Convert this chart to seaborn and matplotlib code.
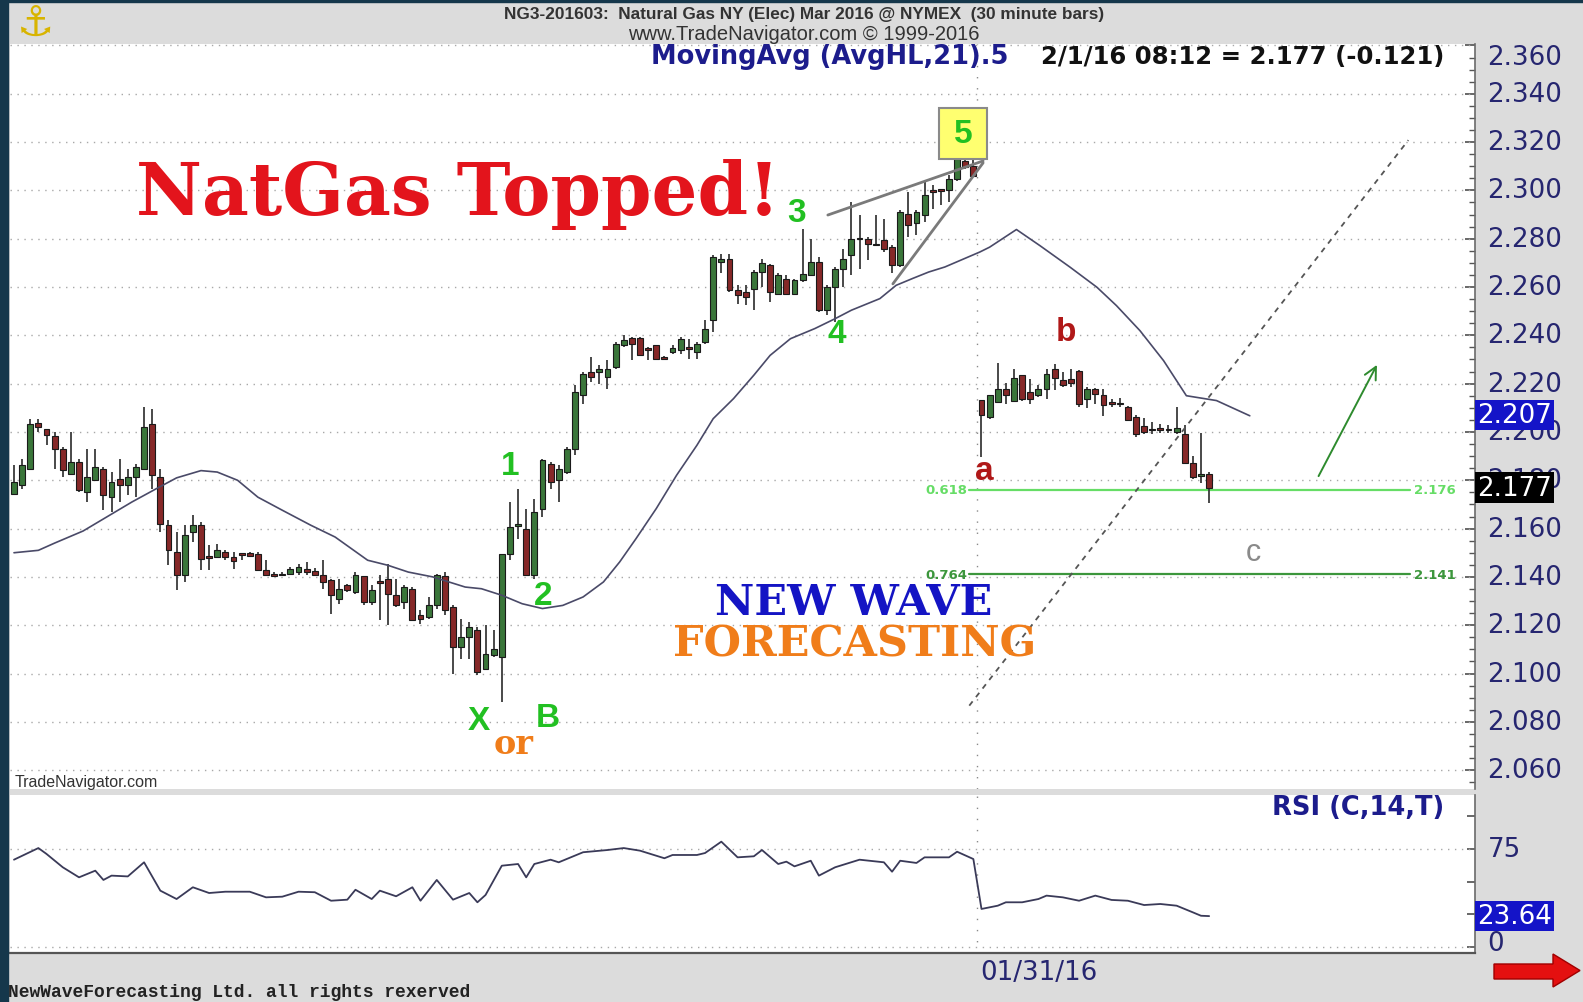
import numpy as np
import matplotlib
matplotlib.use("Agg")
import matplotlib.pyplot as plt
import matplotlib.transforms as mtransforms
from matplotlib.patches import Rectangle, Polygon
from matplotlib.ticker import MultipleLocator, FixedLocator
import seaborn as sns

# ---------------- data (30 minute bars, NG Mar 2016) ----------------
opens = [2.1745, 2.1779, 2.1848, 2.2039, 2.2011, 2.1983, 2.1931, 2.1828, 2.1876, 2.1752,
         2.1800, 2.1848, 2.1731, 2.1807, 2.1779, 2.1814, 2.1848, 2.2035, 2.1814, 2.1614,
         2.1503, 2.1407, 2.1586, 2.1614, 2.1483, 2.1483, 2.1503, 2.1483, 2.1494, 2.1500,
         2.1496, 2.1427, 2.1414, 2.1407, 2.1414, 2.1420, 2.1431, 2.1423, 2.1407, 2.1386,
         2.1310, 2.1365, 2.1338, 2.1404, 2.1296, 2.1379, 2.1393, 2.1324, 2.1296, 2.1351,
         2.1241, 2.1234, 2.1282, 2.1404, 2.1276, 2.1110, 2.1151, 2.1179, 2.1020, 2.1075,
         2.1069, 2.1496, 2.1611, 2.1600, 2.1407, 2.1683, 2.1869, 2.1800, 2.1834, 2.1931,
         2.2152, 2.2248, 2.2248, 2.2228, 2.2269, 2.2359, 2.2389, 2.2389, 2.2348, 2.2359,
         2.2311, 2.2331, 2.2338, 2.2352, 2.2331, 2.2373, 2.2462, 2.2704, 2.2715, 2.2587,
         2.2580, 2.2593, 2.2662, 2.2693, 2.2573, 2.2635, 2.2573, 2.2628, 2.2649, 2.2704,
         2.2504, 2.2600, 2.2676, 2.2731, 2.2800, 2.2800, 2.2780, 2.2794, 2.2766, 2.2690,
         2.2904, 2.2863, 2.2897, 2.3001, 2.3005, 2.3001, 2.3049, 2.3123, 2.3100,
         2.2131, 2.2062, 2.2124, 2.2177, 2.2128, 2.2235, 2.2166, 2.2152, 2.2179, 2.2262,
         2.2214, 2.2218, 2.2251, 2.2138, 2.2179, 2.2152, 2.2124, 2.2121, 2.2104, 2.2062,
         2.2023, 2.2014, 2.2017, 2.2014, 2.2000, 2.1993, 2.1873, 2.1818, 2.1828]
highs = [2.1865, 2.1890, 2.2055, 2.2052, 2.2014, 2.2000, 2.1938, 2.2000, 2.1890, 2.1931,
         2.1931, 2.1855, 2.1834, 2.1890, 2.1848, 2.1869, 2.2104, 2.2094, 2.1848, 2.1634,
         2.1586, 2.1614, 2.1655, 2.1627, 2.1531, 2.1538, 2.1510, 2.1503, 2.1499, 2.1503,
         2.1503, 2.1469, 2.1420, 2.1420, 2.1441, 2.1455, 2.1462, 2.1437, 2.1469, 2.1393,
         2.1393, 2.1372, 2.1420, 2.1404, 2.1365, 2.1407, 2.1455, 2.1393, 2.1365, 2.1358,
         2.1262, 2.1317, 2.1414, 2.1420, 2.1282, 2.1227, 2.1213, 2.1193, 2.1200, 2.1179,
         2.1496, 2.1710, 2.1765, 2.1683, 2.1724, 2.1890, 2.1876, 2.1862, 2.1938, 2.2193,
         2.2248, 2.2311, 2.2276, 2.2297, 2.2373, 2.2400, 2.2393, 2.2393, 2.2352, 2.2359,
         2.2315, 2.2359, 2.2393, 2.2386, 2.2373, 2.2462, 2.2731, 2.2738, 2.2738, 2.2607,
         2.2607, 2.2669, 2.2718, 2.2697, 2.2656, 2.2649, 2.2635, 2.2842, 2.2800, 2.2725,
         2.2607, 2.2683, 2.2759, 2.2952, 2.2897, 2.2807, 2.2897, 2.2883, 2.2773, 2.2918,
         2.2994, 2.2918, 2.3035, 2.3021, 2.3007, 2.3063, 2.3145, 2.3143, 2.3137,
         2.2131, 2.2155, 2.2287, 2.2204, 2.2262, 2.2237, 2.2221, 2.2193, 2.2262, 2.2283,
         2.2248, 2.2262, 2.2255, 2.2186, 2.2182, 2.2179, 2.2138, 2.2141, 2.2106, 2.2072,
         2.2058, 2.2041, 2.2035, 2.2028, 2.2104, 2.2030, 2.1901, 2.1996, 2.1835]
lows = [2.1738, 2.1765, 2.1848, 2.2000, 2.1945, 2.1848, 2.1814, 2.1821, 2.1752, 2.1710,
        2.1800, 2.1676, 2.1669, 2.1710, 2.1738, 2.1731, 2.1848, 2.1765, 2.1586, 2.1448,
        2.1345, 2.1379, 2.1545, 2.1427, 2.1427, 2.1483, 2.1469, 2.1434, 2.1469, 2.1483,
        2.1423, 2.1404, 2.1404, 2.1404, 2.1407, 2.1407, 2.1407, 2.1404, 2.1351, 2.1248,
        2.1289, 2.1338, 2.1331, 2.1282, 2.1282, 2.1220, 2.1200, 2.1276, 2.1269, 2.1220,
        2.1207, 2.1227, 2.1269, 2.1241, 2.1000, 2.1062, 2.1062, 2.0993, 2.1020, 2.1069,
        2.0882, 2.1469, 2.1558, 2.1407, 2.1393, 2.1648, 2.1765, 2.1710, 2.1828, 2.1903,
        2.2117, 2.2207, 2.2200, 2.2179, 2.2262, 2.2352, 2.2297, 2.2317, 2.2297, 2.2304,
        2.2300, 2.2324, 2.2324, 2.2304, 2.2304, 2.2366, 2.2414, 2.2656, 2.2580, 2.2531,
        2.2524, 2.2504, 2.2600, 2.2538, 2.2566, 2.2566, 2.2566, 2.2621, 2.2649, 2.2497,
        2.2483, 2.2455, 2.2600, 2.2649, 2.2676, 2.2711, 2.2773, 2.2745, 2.2656, 2.2683,
        2.2807, 2.2814, 2.2869, 2.2925, 2.2938, 2.2952, 2.3040, 2.3088, 2.3054,
        2.1897, 2.2055, 2.2121, 2.2117, 2.2127, 2.2127, 2.2117, 2.2145, 2.2138, 2.2173,
        2.2186, 2.2186, 2.2104, 2.2101, 2.2117, 2.2066, 2.2104, 2.2104, 2.2044, 2.1979,
        2.1993, 2.1993, 2.1997, 2.1997, 2.1993, 2.1869, 2.1807, 2.1790, 2.1707]
closes = [2.1793, 2.1862, 2.2035, 2.2021, 2.1986, 2.1931, 2.1841, 2.1876, 2.1759, 2.1814,
          2.1855, 2.1738, 2.1793, 2.1779, 2.1814, 2.1855, 2.2021, 2.1821, 2.1620, 2.1510,
          2.1407, 2.1572, 2.1614, 2.1476, 2.1480, 2.1510, 2.1483, 2.1465, 2.1492, 2.1487,
          2.1427, 2.1407, 2.1404, 2.1414, 2.1434, 2.1441, 2.1420, 2.1407, 2.1379, 2.1324,
          2.1351, 2.1345, 2.1407, 2.1296, 2.1345, 2.1375, 2.1331, 2.1282, 2.1358, 2.1220,
          2.1227, 2.1282, 2.1407, 2.1262, 2.1110, 2.1151, 2.1193, 2.1006, 2.1082, 2.1103,
          2.1496, 2.1607, 2.1614, 2.1407, 2.1669, 2.1883, 2.1793, 2.1848, 2.1931, 2.2166,
          2.2242, 2.2228, 2.2262, 2.2262, 2.2366, 2.2380, 2.2366, 2.2320, 2.2338, 2.2304,
          2.2304, 2.2348, 2.2386, 2.2345, 2.2366, 2.2428, 2.2725, 2.2718, 2.2587, 2.2566,
          2.2559, 2.2662, 2.2701, 2.2580, 2.2649, 2.2573, 2.2628, 2.2653, 2.2704, 2.2504,
          2.2600, 2.2676, 2.2718, 2.2800, 2.2798, 2.2780, 2.2773, 2.2759, 2.2690, 2.2911,
          2.2856, 2.2911, 2.2980, 2.2994, 2.2998, 2.3049, 2.3132, 2.3095, 2.3059,
          2.2069, 2.2152, 2.2177, 2.2155, 2.2224, 2.2138, 2.2138, 2.2179, 2.2242, 2.2224,
          2.2193, 2.2204, 2.2117, 2.2179, 2.2159, 2.2110, 2.2116, 2.2115, 2.2048, 2.1993,
          2.2000, 2.2007, 2.2007, 2.2007, 2.2017, 2.1873, 2.1814, 2.1828, 2.1770]

# MovingAvg (AvgHL,21) shifted 5 bars (bar index, value)
ma_bar = [0, 3, 5, 8.5, 12, 14.5, 17.5, 20, 23, 25, 27.5, 30, 33, 36.5, 39.5, 41.5, 43.5,
          46, 48.5, 51.5, 55.5, 57.5, 60, 62.5, 65, 67.5, 70, 72.5, 74.5, 76.5, 79, 81.5,
          84, 86, 88.5, 91, 93, 95.5, 98.5, 101, 103, 106.5, 108.5, 110.5, 112.5, 114.5,
          118.8, 120, 123.3, 126.2, 129.9, 133.2, 135.6, 138.5, 141.4, 144.2, 147.9, 152]
ma_val = [2.150, 2.151, 2.154, 2.159, 2.166, 2.171, 2.1765, 2.181, 2.184, 2.1834, 2.180,
          2.173, 2.1676, 2.1614, 2.1565, 2.1517, 2.1469, 2.1448, 2.142, 2.140, 2.1358,
          2.1351, 2.1324, 2.1289, 2.1269, 2.1282, 2.1317, 2.1379, 2.1462, 2.1558, 2.1683,
          2.1821, 2.1945, 2.2055, 2.2138, 2.2235, 2.2317, 2.2386, 2.2428, 2.2469, 2.2504,
          2.2552, 2.2607, 2.2635, 2.2662, 2.2683, 2.2745, 2.2765, 2.2838, 2.2771, 2.2682,
          2.2599, 2.2523, 2.2419, 2.2295, 2.2150, 2.2130, 2.2067]

# RSI (C,14,T)
rsi_bar = [0, 3, 4, 6, 8, 10, 11, 12, 14, 16, 18, 20, 22, 24, 26, 29, 31, 33, 35, 37, 39,
           41, 42, 44, 45, 47, 49, 50, 52, 54, 56, 57, 58, 60, 62, 63, 64, 66, 67, 70, 73,
           75, 77, 80, 81, 84, 85, 87, 89, 91, 92, 94, 95, 96, 98, 99, 101, 104, 107, 108,
           109, 111, 112, 115, 116, 118, 119, 121, 122, 124, 126, 127, 129, 131, 133, 135,
           137, 139, 141, 143, 145, 146, 147]
rsi_val = [66.8, 75.7, 71.2, 61, 53.3, 58.4, 51.3, 54.6, 54, 64.8, 43.1, 36.7, 45.7, 41.3,
           42.3, 42.3, 38, 38.5, 42.3, 41.9, 35.4, 36.2, 43.8, 36.7, 43.1, 38.8, 45.7, 35.4,
           51.3, 36.2, 41.3, 34.2, 39.8, 62.2, 63.5, 53.3, 63.5, 66.8, 64.8, 72.5, 74.2,
           75.7, 73.7, 67.9, 70.4, 70.4, 71.9, 80.6, 68.6, 69.4, 74.2, 63.5, 65.3, 61.7, 66,
           54.6, 61, 66.8, 64.8, 57.6, 66, 64.3, 68.6, 68.6, 72.9, 67.3, 29.1, 31.6, 34.2,
           34.2, 36.7, 39.3, 38, 35.4, 39.3, 36, 35.4, 32.1, 32.9, 31.6, 26.5, 23.9, 23.64]

price_ticks = [2.060, 2.080, 2.100, 2.120, 2.140, 2.160, 2.180, 2.200, 2.220, 2.240,
               2.260, 2.280, 2.300, 2.320, 2.340, 2.360]
price_labels = ["2.060", "2.080", "2.100", "2.120", "2.140", "2.160", "2.180", "2.200",
                "2.220", "2.240", "2.260", "2.280", "2.300", "2.320", "2.340", "2.360"]
rsi_ticks = [0, 75]
rsi_labels = ["0", "75"]
fib_levels = [2.176, 2.141]
fib_ratios = ["0.618", "0.764"]
last_close = 2.177
last_ma = 2.207
last_rsi = 23.64
session_break = 118.5
date_label = "01/31/16"

# ---------------- figure ----------------
sns.set_theme(style="white")
plt.rcParams["font.family"] = ["DejaVu Sans"]

W, H = 1583, 1003
fig = plt.figure(figsize=(W / 100, H / 100), dpi=100, facecolor="#dcdcdc")


def fx(px):
    return px / W


def fy(py):
    return 1 - py / H


# outer dark frame
fig.patches.append(Rectangle((0, 0), fx(8), 1, transform=fig.transFigure,
                             color="#15374b", zorder=0))
fig.patches.append(Rectangle((0, fy(3)), 1, 3 / H, transform=fig.transFigure,
                             color="#15374b", zorder=0))

ax = fig.add_axes([fx(10), fy(790), fx(1475) - fx(10), fy(45) - fy(790)])
rx = fig.add_axes([fx(10), fy(954), fx(1475) - fx(10), fy(796) - fy(954)])
for a in (ax, rx):
    a.set_facecolor("white")
    a.set_xlim(-0.49, 179.7)
    for s in ("top", "left"):
        a.spines[s].set_visible(False)
    a.spines["right"].set_color("#6a6a6a")
    a.spines["right"].set_linewidth(1.2)
    a.set_xticks([])
ax.spines["bottom"].set_visible(False)
rx.spines["bottom"].set_color("#555555")
rx.spines["bottom"].set_linewidth(1.6)

ax.set_ylim(2.0522, 2.3606)
rx.set_ylim(-4.6, 116.3)

grid_kw = dict(color="#a8a8a8", lw=1.0, linestyle=(0, (1, 4)), zorder=1)
for v in price_ticks:
    ax.axhline(v, **grid_kw)
for v in rsi_ticks:
    rx.axhline(v, **grid_kw)
for a in (ax, rx):
    a.axvline(session_break, color="#8a8a8a", lw=1.0, linestyle=(0, (1, 7)), zorder=1)

# ticks on the right, pointing inward
ax.yaxis.tick_right()
ax.yaxis.set_major_locator(FixedLocator(price_ticks))
ax.yaxis.set_minor_locator(MultipleLocator(0.005))
ax.tick_params(axis="y", which="major", direction="in", length=7, color="#555555",
               labelright=False, labelleft=False)
ax.tick_params(axis="y", which="minor", direction="in", length=4, color="#555555")
rx.yaxis.tick_right()
rx.yaxis.set_major_locator(FixedLocator([0, 25, 50, 75, 100]))
rx.tick_params(axis="y", direction="in", length=6, color="#555555",
               labelright=False, labelleft=False)

# ---------------- candles ----------------
o = np.array(opens)
c = np.array(closes)
h = np.array(highs)
l = np.array(lows)
bars = np.arange(len(o))
up = c >= o
ax.vlines(bars, l, h, color="#3a3a3a", lw=1.3, zorder=3)
ax.bar(bars, np.maximum(np.abs(c - o), 0.0006), bottom=np.minimum(o, c), width=0.72,
       color=np.where(up, "#3a763a", "#862828"), edgecolor="#1a1a1a", linewidth=0.8,
       zorder=4)

# moving average and RSI via seaborn
sns.lineplot(x=ma_bar, y=ma_val, ax=ax, color="#4a4a68", lw=1.2, sort=False,
             estimator=None, zorder=5)
sns.lineplot(x=rsi_bar, y=rsi_val, ax=rx, color="#3a3a58", lw=1.3, sort=False,
             estimator=None, zorder=5)
for a in (ax, rx):
    a.set_xlabel("")
    a.set_ylabel("")

# ---------------- annotations in the price panel ----------------
# rising wedge
ax.plot([100.1, 119.2], [2.2898, 2.3122], color="#7a7a7a", lw=2.0, zorder=6)
ax.plot([108.1, 119.2], [2.2613, 2.3114], color="#7a7a7a", lw=2.0, zorder=6)
# dashed trend line
ax.plot([117.5, 171.5], [2.0867, 2.3208], color="#555555", lw=1.3,
        linestyle=(0, (3, 3)), zorder=6)
# green arrow
ax.annotate("", xy=(167.8, 2.2288), xytext=(160.3, 2.1807),
            arrowprops=dict(arrowstyle="->", color="#2e8b2e", lw=1.4, mutation_scale=22),
            zorder=6)

# fib lines
fib_colors = ["#66dd66", "#3c963c"]
for lev, rat, col in zip(fib_levels, fib_ratios, fib_colors):
    ax.plot([117.5, 171.7], [lev, lev], color=col, lw=1.6, zorder=2)
    ax.text(117.3, lev, rat, ha="right", va="center", fontsize=9.5, weight="bold",
            color=col, zorder=7)
    ax.text(172.2, lev, f"{lev:.3f}", ha="left", va="center", fontsize=9.5,
            weight="bold", color=col, zorder=7)

# big texts
ax.text(15.0, 2.2903, "NatGas Topped!", ha="left", va="baseline", fontsize=52,
        family="DejaVu Serif", weight="bold", color="#e3141c", zorder=8)
ax.text(103.3, 2.1248, "NEW WAVE", ha="center", va="baseline", fontsize=31,
        family="DejaVu Serif", weight="bold", color="#1414c4", zorder=8)
ax.text(103.4, 2.1076, "FORECASTING", ha="center", va="baseline", fontsize=31,
        family="DejaVu Serif", weight="bold", color="#f07d1a", zorder=8)

# Elliott wave labels
wave_kw = dict(ha="center", va="center", fontsize=24, weight="bold",
               family="Liberation Sans", color="#22c022", zorder=8)
ax.text(61.0, 2.1863, "1", **wave_kw)
ax.text(65.1, 2.1325, "2", **wave_kw)
ax.text(96.3, 2.2907, "3", **wave_kw)
ax.text(101.2, 2.2406, "4", **wave_kw)
ax.add_patch(Rectangle((113.8, 2.3130), 5.9, 0.0211, facecolor="#ffff70",
                       edgecolor="#8a8a8a", lw=1.5, zorder=7))
ax.text(116.75, 2.3236, "5", **wave_kw)
ax.text(57.2, 2.0805, "X", **wave_kw)
ax.text(65.6, 2.0818, "B", **wave_kw)
ax.text(61.5, 2.0712, "or", ha="center", va="center", fontsize=24, weight="bold",
        family="DejaVu Serif", color="#f07d1a", zorder=8)
ax.text(119.3, 2.1839, "a", ha="center", va="center", fontsize=24, weight="bold",
        family="Liberation Sans", color="#b01818", zorder=8)
ax.text(129.4, 2.2414, "b", ha="center", va="center", fontsize=24, weight="bold",
        family="Liberation Sans", color="#b01818", zorder=8)
ax.text(152.5, 2.1503, "c", ha="center", va="center", fontsize=22,
        family="Liberation Sans", color="#8a8a8a", zorder=8)

# ---------------- right axis labels ----------------
lab_kw = dict(fontsize=18.8, color="#262670", ha="left", zorder=9, clip_on=False)
ty = mtransforms.blended_transform_factory(ax.transAxes, ax.transData)
for v, s in zip(price_ticks, price_labels):
    if v >= 2.3599:
        ax.text(1.0085, 2.3606, s, transform=ty, va="top", **lab_kw)
    else:
        ax.text(1.0085, v, s, transform=ty, va="center", **lab_kw)
ax.text(1.0014, last_ma, f"{last_ma:.3f}", transform=ty, va="center", fontsize=18.8,
        color="white", ha="left", zorder=10, clip_on=False,
        bbox=dict(boxstyle="square,pad=0.08", fc="#1414c8", ec="none"))
ax.text(1.0014, last_close, f"{last_close:.3f}", transform=ty, va="center",
        fontsize=18.8, color="white", ha="left", zorder=10, clip_on=False,
        bbox=dict(boxstyle="square,pad=0.08", fc="#000000", ec="none"))

tr = mtransforms.blended_transform_factory(rx.transAxes, rx.transData)
for v, s in zip(rsi_ticks, rsi_labels):
    rx.text(1.0085, v + (3 if v == 0 else 0), s, transform=tr, va="center", **lab_kw)
rx.text(1.0014, last_rsi, f"{last_rsi:.2f}", transform=tr, va="center", fontsize=18.8,
        color="white", ha="left", zorder=10, clip_on=False,
        bbox=dict(boxstyle="square,pad=0.08", fc="#1414c8", ec="none"))

# ---------------- header / footer texts ----------------
fig.text(fx(36), fy(24), "\u2693", ha="center", va="center", fontsize=30,
         color="#d8b400", weight="bold")
fig.text(fx(804), fy(15), "NG3-201603:  Natural Gas NY (Elec) Mar 2016 @ NYMEX  (30 minute bars)",
         ha="center", va="center", fontsize=12.4, weight="bold", family="Liberation Sans",
         color="#333333")
fig.text(fx(804), fy(35), "www.TradeNavigator.com \u00a9 1999-2016", ha="center",
         va="center", fontsize=14.5, family="Liberation Sans", color="#333333")
fig.text(fx(651), fy(57), "MovingAvg (AvgHL,21).5", ha="left", va="center",
         fontsize=18.5, weight="bold", color="#1c1c8c")
fig.text(fx(1444), fy(57), "2/1/16 08:12 = 2.177 (-0.121)", ha="right", va="center",
         fontsize=17.6, weight="bold", color="#111111")
fig.text(fx(15), fy(782), "TradeNavigator.com", ha="left", va="center", fontsize=11.5,
         family="Liberation Sans", color="#333333")
fig.text(fx(1444), fy(808), "RSI (C,14,T)", ha="right", va="center", fontsize=18.5,
         weight="bold", color="#1c1c8c")
fig.text(fx(980), fy(973), date_label, ha="left", va="center", fontsize=18.8,
         color="#262670")
fig.text(fx(8), fy(993), "NewWaveForecasting Ltd. all rights rexerved", ha="left",
         va="center", fontsize=13, family="Liberation Mono", weight="bold",
         color="#222222")

# red arrow bottom right
arrow_px = [(1494, 965), (1553, 965), (1553, 955), (1580, 971.5), (1553, 988),
            (1553, 980), (1494, 980)]
fig.patches.append(Polygon([(fx(x), fy(y)) for x, y in arrow_px], closed=True,
                           transform=fig.transFigure, facecolor="#e41010",
                           edgecolor="#a00000", lw=1, zorder=5))

fig.savefig("out.png", dpi=100, facecolor=fig.get_facecolor())
